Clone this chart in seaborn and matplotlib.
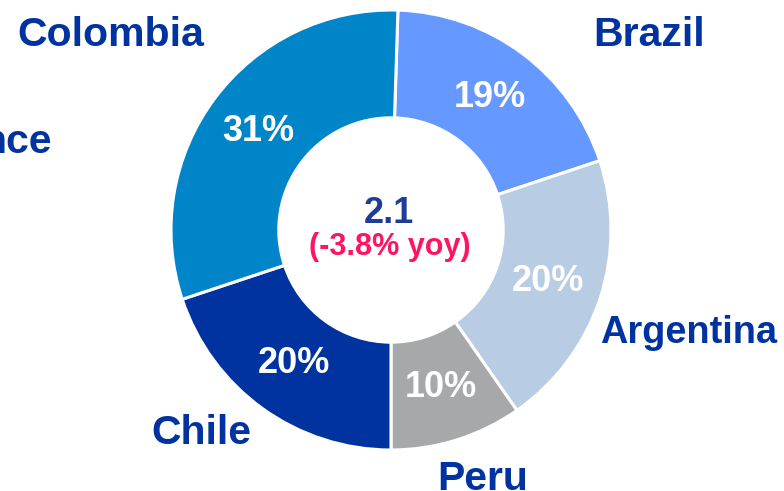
import matplotlib
matplotlib.use("Agg")
import matplotlib.pyplot as plt
import seaborn as sns

# Data
countries = ["Brazil", "Argentina", "Peru", "Chile", "Colombia"]
shares = [19.4, 20.4, 9.7, 19.9, 30.6]
colors = ["#6699FF", "#B8CCE4", "#A7A8AA", "#0033A0", "#0085C9"]
total_label = "2.1"
yoy_label = "(-3.8% yoy)"
extra_label = "nce"

sns.set_theme(style="white")
plt.rcParams["font.family"] = ["Liberation Sans", "DejaVu Sans"]

W, H = 784, 491
fig = plt.figure(figsize=(W / 100, H / 100), dpi=100)
ax = fig.add_axes([0, 0, 1, 1])

def py(y):
    return H - y

cx, cy, R = 391, 230, 220
wedges, texts, autotexts = ax.pie(
    shares, colors=colors, startangle=88.2, counterclock=False,
    center=(cx, py(cy)), radius=R,
    wedgeprops=dict(width=R * 0.49, edgecolor="white", linewidth=2.2),
    autopct="%1.0f%%", pctdistance=0.75,
    textprops=dict(color="white", fontsize=26, fontweight="bold"),
)
ax.set_xlim(0, W)
ax.set_ylim(0, H)
ax.set_aspect("equal")
ax.axis("off")

lab_color = "#0033A0"
lab_kw = dict(color=lab_color, fontweight="bold", va="baseline")
label_pos = {
    "Colombia": (17, 46, "left", 29.5),
    "Brazil": (593, 46, "left", 29.5),
    "Argentina": (600, 343, "left", 27.3),
    "Chile": (151, 444, "left", 29.5),
    "Peru": (437, 490, "left", 29.5),
}
for name in countries:
    x, y, ha, fs = label_pos[name]
    ax.text(x, py(y), name, ha=ha, fontsize=fs, **lab_kw)
ax.text(52, py(153), extra_label, ha="right", fontsize=29.5, **lab_kw)

ax.text(389, py(223), total_label, ha="center", va="baseline",
        color="#1F3C99", fontsize=26, fontweight="bold")
ax.text(390, py(255), yoy_label, ha="center", va="baseline",
        color="#FF1464", fontsize=22, fontweight="bold")

fig.savefig("out.png", dpi=100)
